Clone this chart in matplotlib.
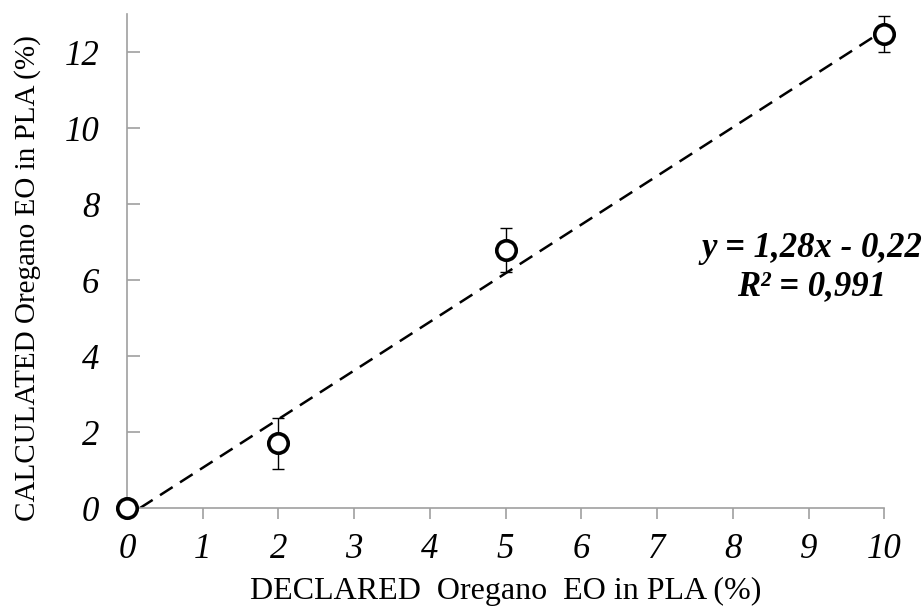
import matplotlib.pyplot as plt
import numpy as np

# data
declared = [0, 2, 5, 10]
calculated = [0, 1.7, 6.8, 12.47]
err = [0, 0.68, 0.58, 0.47]
slope, intercept = 1.28, -0.22
xticks = list(range(0, 11))
yticks = [0, 2, 4, 6, 8, 10, 12]

plt.rcParams['font.family'] = ['Liberation Serif', 'DejaVu Serif']

fig = plt.figure(figsize=(9.23, 6.14), dpi=100)
ax = fig.add_axes([0.1376, 0.1726, 0.8204, 0.8044])

# trend line, clipped at y = 0
x0 = -intercept / slope
xl = np.array([x0, 10])
ax.plot(xl, slope * xl + intercept, color='black', lw=1.8, dashes=(6, 3.5))

ax.errorbar(declared, calculated, yerr=err, fmt='none', ecolor='black',
            elinewidth=1, capsize=4, capthick=1, clip_on=False)
ax.plot(declared, calculated, 'o', ms=14, mfc='white', mec='black', mew=2.6,
        clip_on=False, zorder=5)

ax.set_xlim(0, 10)
ax.set_ylim(0, 13)
ax.set_xticks(xticks)
ax.set_yticks(yticks)
for s in ['top', 'right']:
    ax.spines[s].set_visible(False)
for s in ['left', 'bottom']:
    ax.spines[s].set_color('#a0a0a0')
    ax.spines[s].set_linewidth(1.2)
ax.tick_params(axis='y', direction='in', length=9, color='#a0a0a0', width=1.2,
               labelsize=25, pad=20)
ax.tick_params(axis='x', direction='out', length=8, color='#a0a0a0', width=1.2,
               labelsize=25, pad=10)
for lab in ax.get_xticklabels() + ax.get_yticklabels():
    lab.set_fontstyle('italic')

ax.set_xlabel('DECLARED  Oregano  EO in PLA (%)', fontsize=23, labelpad=8)
ax.set_ylabel('CALCULATED Oregano EO in PLA (%)', fontsize=21)
ax.yaxis.set_label_coords(-0.113, 0.466)

ax.text(9.04, 6.34, 'y = 1,28x - 0,22\nR² = 0,991', fontsize=25,
        fontweight='bold', fontstyle='italic', ha='center', va='center',
        linespacing=1.2)

fig.savefig('out.png', dpi=100)
